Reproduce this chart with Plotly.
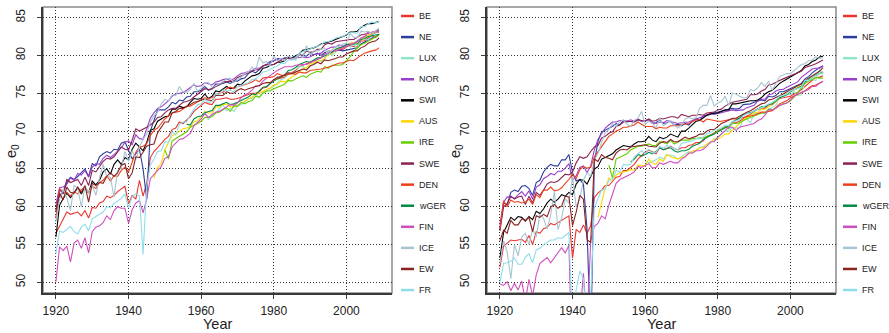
import plotly.graph_objects as go

# ---------------- data ----------------
countries = ["BE", "NE", "LUX", "NOR", "SWI", "AUS", "IRE", "SWE", "DEN", "wGER", "FIN", "ICE", "EW", "FR"]
first_year = [1920, 1920, 1960, 1920, 1920, 1947, 1950, 1920, 1920, 1956, 1920, 1920, 1920, 1920]
colors = ["#E8352E", "#2D3E9E", "#8FE5C6", "#9A3FCB", "#000000", "#FFD700", "#66CD00",
          "#8B2252", "#EE3F1A", "#008B45", "#CD50BE", "#A7C4D2", "#8B2323", "#8EDDEB"]

# Females (left panel)
F_BE = [56.5,57.5,58.3,59.3,59.0,59.2,59.3,58.8,59.5,58.5,
        59.9,59.8,60.5,60.7,61.4,61.2,61.5,62.0,62.4,62.7,
        60.4,61.5,61.0,63.5,61.4,63.1,66.5,67.3,67.8,68.4,
        68.9,69.3,70.2,70.4,71.2,71.0,71.4,71.9,72.6,73.0,
        73.4,73.8,73.6,73.5,74.2,74.2,74.3,74.4,74.2,74.2,
        74.3,74.5,74.7,74.8,75.0,75.0,75.2,75.7,75.8,76.3,
        76.8,76.9,77.0,77.1,77.6,77.7,78.0,78.5,78.7,78.9,
        79.1,79.4,79.6,79.7,80.2,80.6,80.5,80.6,80.8,80.8,
        81.1,81.3,81.2,81.1,81.9,81.9,82.3,82.6,82.4,82.8]
F_NE = [59.5,62.3,61.7,63.2,63.9,63.6,64.0,64.5,65.0,64.0,
        65.7,65.4,66.6,67.0,67.3,67.1,67.6,67.5,68.4,68.6,
        67.4,66.3,67.0,67.6,65.0,61.0,70.0,71.4,72.8,72.8,
        72.8,73.2,73.8,73.6,74.1,74.0,74.5,74.6,75.2,75.2,
        75.4,75.9,75.4,75.6,76.2,76.2,76.3,76.5,76.3,76.6,
        76.6,76.9,77.0,77.6,77.9,77.7,78.2,78.6,78.8,79.2,
        79.3,79.5,79.4,79.7,79.7,79.6,79.7,80.0,80.0,79.9,
        80.3,80.1,80.3,80.0,80.4,80.5,80.4,80.7,80.7,80.6,
        80.7,80.8,80.8,81.0,81.5,81.7,82.0,82.3,82.4,82.8]
F_LUX = [72.0,72.6,71.5,72.2,72.4,72.9,73.5,72.7,73.0,72.6,
         73.3,73.5,73.8,74.3,74.3,74.9,74.4,75.2,75.3,75.6,
         75.9,76.4,76.8,77.0,77.5,77.6,77.8,78.5,78.6,78.0,
         78.6,79.0,79.5,79.2,79.6,80.6,80.0,80.4,81.0,81.2,
         81.5,81.1,81.5,80.8,82.3,82.4,82.0,82.6,83.2,83.3]
F_NOR = [60.3,62.5,62.6,63.0,63.8,63.5,64.4,64.2,64.8,63.9,
         65.2,65.7,65.6,66.4,66.8,66.5,66.9,67.3,67.8,68.5,
         68.7,68.2,69.5,69.0,68.9,70.3,71.7,72.4,73.0,73.2,
         73.6,74.0,74.6,74.9,75.0,75.1,75.4,75.8,76.1,75.9,
         76.0,76.4,76.2,76.1,76.5,76.6,76.8,76.9,76.7,76.9,
         77.3,77.6,77.7,77.8,78.0,78.3,78.3,78.6,78.7,79.0,
         79.3,79.6,79.6,79.6,79.6,79.5,79.8,79.7,79.8,79.7,
         79.8,80.1,80.2,80.3,80.7,80.9,81.1,81.1,81.4,81.2,
         81.4,81.6,81.6,81.9,82.3,82.5,82.7,82.8,83.0,83.1]
F_SWI = [56.0,60.2,61.1,61.8,61.2,61.9,62.5,61.7,62.6,61.8,
         63.4,62.9,63.5,64.6,65.0,64.3,65.6,66.2,65.6,66.5,
         66.2,67.6,68.4,67.9,67.4,68.5,70.1,70.3,71.3,71.6,
         71.9,72.0,72.9,72.9,73.3,73.1,73.2,73.8,74.3,74.2,
         74.3,74.9,74.3,74.6,75.3,75.2,75.5,75.9,75.6,75.7,
         76.2,76.1,76.6,76.9,77.3,77.4,77.6,78.3,78.4,78.7,
         78.8,79.1,79.1,79.3,79.8,79.7,79.9,80.2,80.7,80.8,
         80.8,81.0,81.2,81.5,81.6,81.7,81.9,82.1,82.3,82.4,
         82.7,83.1,83.1,83.2,83.7,84.0,84.2,84.2,84.4,84.5]
F_AUS = [63.8,65.2,65.7,
         67.5,68.5,69.4,69.6,69.9,70.3,70.4,70.6,71.2,71.4,
         71.9,72.6,72.4,72.4,73.2,73.2,73.5,73.6,73.2,73.2,
         73.4,73.7,74.0,74.3,74.6,74.8,75.0,75.3,75.5,75.7,
         76.1,76.2,76.6,76.5,76.8,77.1,77.5,77.8,78.2,78.4,
         78.9,79.0,79.3,79.3,79.6,80.1,80.2,80.8,80.9,81.0,
         81.2,81.6,81.7,81.6,82.2,82.3,82.7,82.9,83.0,83.2]
F_IRE = [67.5,66.3,68.7,69.0,69.4,69.7,69.9,70.5,70.7,71.0,
         71.3,71.8,71.8,71.9,72.4,72.5,72.8,73.1,72.6,73.3,
         73.3,73.8,73.6,73.9,74.0,74.6,74.5,75.0,75.3,75.3,
         75.6,75.8,76.0,76.2,76.7,76.6,76.9,77.1,77.3,77.1,
         77.5,77.7,77.9,77.8,78.5,78.3,78.7,78.7,78.7,78.8,
         79.3,79.8,80.5,80.9,81.4,81.6,81.9,82.2,82.4,82.7]
F_SWE = [58.5,61.5,61.8,63.6,63.2,63.4,63.6,62.8,63.9,62.8,
         64.8,64.6,65.3,66.0,66.4,66.3,66.6,67.3,67.9,67.6,
         67.5,68.8,70.3,70.0,70.2,70.5,70.8,71.2,71.8,71.9,
         72.4,72.8,73.0,73.0,73.4,73.8,73.9,74.1,74.5,74.9,
         75.2,75.6,75.5,75.6,75.9,76.1,76.5,76.5,76.5,76.6,
         77.1,77.3,77.4,77.7,77.8,78.1,78.1,78.6,78.8,78.8,
         78.8,79.1,79.4,79.6,79.6,79.7,79.7,80.1,80.0,80.6,
         80.4,80.5,80.8,80.8,81.4,81.6,81.5,81.8,81.9,81.9,
         82.0,82.1,82.1,82.4,82.7,82.8,82.9,83.0,83.2,83.4]
F_DEN = [58.5,62.4,62.0,61.9,61.4,62.0,61.7,62.3,62.5,61.9,
         62.7,62.4,63.2,63.5,64.1,63.4,64.1,64.0,64.8,65.2,
         64.6,65.9,67.2,67.9,68.0,68.3,69.4,70.1,70.4,71.0,
         71.6,72.0,72.4,72.5,72.6,72.9,73.3,73.3,73.6,73.8,
         74.1,74.4,74.3,74.4,74.9,75.0,75.1,75.6,75.8,75.6,
         75.9,76.0,76.1,76.3,76.5,76.8,76.5,77.0,77.1,77.1,
         77.2,77.6,77.4,77.3,77.5,77.6,77.5,77.8,77.7,77.7,
         78.0,78.1,78.2,78.2,78.3,78.4,78.6,78.8,79.0,79.0,
         79.2,79.4,79.3,79.7,80.0,80.3,80.5,80.6,80.7,81.0]
F_wGER = [70.9,70.8,71.6,71.9,
          72.0,72.4,72.6,72.7,73.4,73.4,73.6,73.8,73.5,73.6,
          73.8,74.0,74.2,74.5,74.9,74.8,75.3,75.8,75.9,76.3,
          76.6,76.9,77.1,77.4,78.0,78.1,78.4,78.8,79.0,79.2,
          79.1,79.4,79.7,79.7,80.0,80.2,80.4,80.8,81.0,81.1,
          81.4,81.5,81.5,81.5,82.1,82.2,82.5,82.6,82.7,82.8]
F_FIN = [50.1,54.7,54.2,54.8,52.7,55.2,55.6,54.5,55.9,53.9,
         56.7,57.3,57.5,57.9,58.8,58.3,59.5,60.0,59.8,59.8,
         57.8,59.6,60.5,60.8,59.2,61.0,63.7,64.3,64.8,65.3,
         66.4,66.6,67.9,68.4,68.9,69.0,69.3,69.7,70.7,71.1,
         71.6,72.3,71.8,72.2,72.5,72.6,72.9,73.2,73.5,73.4,
         73.7,74.4,74.8,75.0,75.4,76.0,76.0,76.6,77.0,77.3,
         77.7,78.0,78.2,78.5,78.5,78.5,78.7,78.8,78.8,78.8,
         79.0,79.3,79.5,79.7,80.2,80.3,80.6,80.6,80.8,81.0,
         81.2,81.5,81.6,81.8,82.3,82.5,83.1,83.0,83.1,83.2]
F_ICE = [58.0,61.0,62.3,61.2,59.5,62.8,62.5,60.0,62.7,61.8,
         62.8,61.5,63.8,65.6,64.0,63.9,61.3,64.8,65.1,67.3,
         66.0,67.4,66.2,67.9,68.9,69.6,71.2,72.0,72.5,73.6,
         74.2,74.0,74.8,74.7,75.9,75.2,75.1,75.5,76.3,75.3,
         75.6,76.4,76.4,75.8,76.0,76.2,76.5,76.9,77.0,76.4,
         76.9,77.1,77.6,77.8,78.5,78.0,79.8,79.0,79.2,78.6,
         79.9,79.3,79.6,79.3,79.9,79.6,79.4,80.1,79.7,81.3,
         80.1,80.6,80.6,80.8,81.0,80.0,80.7,81.1,81.2,81.5,
         81.6,82.9,82.4,82.3,83.2,83.1,83.2,82.9,83.3,83.6]
F_EW = [59.5,61.8,60.9,62.6,61.9,61.8,62.6,61.9,62.8,60.6,
        63.1,62.8,63.2,63.1,64.0,64.5,64.0,64.5,65.5,65.7,
        63.7,64.5,66.6,66.5,67.2,68.0,68.2,68.3,69.8,70.5,
        71.2,71.2,72.4,72.6,73.0,73.0,73.2,73.5,73.8,73.9,
        74.1,74.2,74.1,74.0,74.7,74.7,74.7,75.2,75.0,75.0,
        75.4,75.6,75.4,75.6,75.8,75.9,76.0,76.3,76.4,76.4,
        76.8,77.1,77.2,77.4,77.7,77.6,77.8,78.1,78.2,78.1,
        78.6,78.8,79.1,78.9,79.4,79.3,79.4,79.6,79.8,79.8,
        80.2,80.4,80.6,80.6,81.0,81.2,81.6,81.8,81.9,82.3]
F_FR = [53.8,56.8,56.6,57.0,57.4,56.7,56.4,57.3,57.7,56.8,
        58.4,58.7,59.0,59.3,60.0,59.9,60.4,60.7,61.1,61.7,
        59.9,61.3,61.7,61.4,53.7,62.6,65.5,66.3,67.3,67.4,
        68.6,68.5,69.9,69.5,70.9,71.2,71.2,72.2,72.8,73.5,
        73.6,74.2,73.8,73.9,75.0,74.8,75.4,75.3,75.4,75.2,
        75.9,76.1,76.2,76.4,76.8,76.9,77.3,77.8,77.9,78.2,
        78.4,78.6,79.0,78.9,79.4,79.4,79.7,80.3,80.5,80.6,
        80.9,81.0,81.3,81.4,81.8,81.8,82.0,82.3,82.4,82.5,
        82.8,83.0,83.0,82.9,83.8,83.8,84.2,84.4,84.3,84.5]

# Males (right panel)
M_BE = [52.0,54.8,55.2,55.6,55.5,55.6,55.7,55.3,56.2,55.0,
        56.7,56.5,57.1,57.3,57.8,57.6,57.9,58.3,58.5,58.8,
        53.2,57.0,56.6,57.6,56.5,57.5,61.2,61.8,62.2,62.8,
        62.8,63.3,63.9,64.0,64.8,64.8,65.2,65.6,66.3,66.8,
        67.2,67.5,67.2,67.0,67.8,67.6,67.7,68.0,67.7,67.5,
        67.8,67.8,68.1,68.2,68.5,68.5,68.7,69.3,69.5,69.7,
        70.0,70.3,70.5,70.6,71.1,71.1,71.3,71.7,72.0,72.2,
        72.7,72.9,73.0,73.0,73.5,73.5,73.9,74.3,74.4,74.5,
        74.6,74.9,75.1,75.5,75.9,76.2,76.6,77.1,77.1,77.3]
M_NE = [57.0,60.5,60.3,61.9,62.2,62.0,62.7,62.8,62.4,61.5,
        63.2,63.5,64.6,65.2,65.6,65.4,65.4,66.2,66.2,66.9,
        64.5,63.4,63.6,63.0,57.0,42.0,65.8,68.6,69.9,70.1,
        70.4,70.6,71.0,70.8,71.4,71.2,71.3,71.2,71.5,71.3,
        71.4,71.5,71.0,71.1,71.5,71.0,71.1,71.3,70.8,70.9,
        70.7,71.0,70.8,71.3,71.6,71.4,72.0,72.1,72.2,72.4,
        72.5,72.7,72.7,72.9,73.0,72.9,73.0,73.5,73.6,73.6,
        73.8,74.0,74.1,74.0,74.6,74.5,74.7,75.2,75.2,75.4,
        75.6,75.8,76.0,76.3,76.9,77.2,77.7,78.1,78.4,78.6]
M_LUX = [66.0,65.8,66.0,66.2,66.6,66.3,66.9,66.8,66.7,66.3,
         66.6,66.9,67.3,67.1,67.5,67.8,68.0,68.2,68.4,69.0,
         69.1,69.6,70.0,70.0,70.5,70.4,70.4,71.4,71.6,71.1,
         72.4,72.3,72.4,72.3,72.9,73.1,73.4,74.5,74.5,74.9,
         74.8,75.2,74.7,74.8,76.4,76.9,76.8,76.7,78.1,77.6]
M_NOR = [57.6,60.6,61.3,61.3,61.1,61.5,62.0,61.4,62.1,61.0,
         62.6,62.9,63.7,64.0,64.4,64.2,64.7,64.7,65.1,65.7,
         63.5,64.1,65.2,65.4,64.5,65.4,67.5,68.9,69.7,70.4,
         70.8,71.2,71.2,71.4,71.4,71.3,71.5,71.3,71.6,71.3,
         71.4,71.5,71.1,71.0,71.2,71.1,71.4,71.3,71.2,71.0,
         71.1,71.2,71.2,71.4,71.6,71.7,71.9,72.2,72.3,72.2,
         72.3,72.5,72.6,72.7,72.8,72.7,72.8,72.8,73.1,73.3,
         73.4,74.0,74.2,74.2,74.8,74.9,75.3,75.5,75.5,75.8,
         76.0,76.3,76.5,77.1,77.5,77.8,78.2,78.3,78.3,78.6]
M_SWI = [53.2,56.6,57.6,58.6,58.2,58.7,58.6,58.1,58.7,58.3,
         59.4,59.1,59.7,60.5,61.0,60.6,61.0,61.6,61.4,61.9,
         61.6,63.0,63.6,63.5,63.0,64.0,65.0,65.3,66.3,66.5,
         66.8,67.0,67.5,67.8,68.1,68.0,67.9,68.3,68.6,68.6,
         68.7,69.3,68.8,68.6,69.2,69.0,69.2,69.6,69.4,69.2,
         70.0,70.0,70.4,70.9,71.3,71.4,71.8,72.1,72.3,72.3,
         72.4,72.6,72.8,72.8,73.6,73.6,73.7,73.8,74.0,74.0,
         74.0,74.1,74.4,74.9,75.2,75.4,75.8,76.3,76.6,76.9,
         77.1,77.5,77.8,78.0,78.6,78.8,79.2,79.4,79.8,79.9]
M_AUS = [58.6,60.5,62.5,
         63.8,63.5,64.2,64.5,64.6,64.7,64.9,64.8,65.5,65.4,
         65.4,66.3,65.7,65.6,66.3,66.0,66.9,66.6,66.4,66.3,
         66.5,66.6,67.0,67.4,67.4,67.8,67.8,68.3,68.5,68.9,
         69.0,69.2,69.6,69.6,70.1,70.5,71.0,71.5,71.8,72.1,
         72.4,72.5,72.9,72.9,73.3,73.6,73.9,74.4,74.7,75.0,
         75.2,75.7,75.9,75.9,76.5,76.7,77.1,77.4,77.6,77.7]
M_IRE = [65.5,63.8,66.3,66.5,66.8,67.0,67.5,67.7,68.0,68.0,
         68.2,68.3,68.1,68.1,68.6,68.5,68.3,68.8,68.3,68.6,
         68.8,68.8,68.8,69.0,69.0,69.1,69.1,69.3,69.5,69.6,
         70.1,70.3,70.6,70.3,71.0,71.0,71.1,71.4,71.6,71.8,
         72.1,72.3,72.4,72.4,72.9,72.8,73.1,73.4,73.6,73.7,
         74.0,74.5,75.1,75.6,76.3,76.6,76.9,77.1,77.0,77.0]
M_SWE = [56.8,60.0,60.4,61.4,61.0,61.3,61.4,60.3,61.4,60.5,
         61.9,61.5,62.2,63.0,63.3,63.2,63.4,63.8,64.3,64.2,
         64.6,65.8,66.6,66.4,66.6,67.3,67.9,68.1,69.1,69.3,
         69.7,69.9,70.6,70.8,71.2,71.3,71.2,71.2,71.5,71.4,
         71.3,71.6,71.3,71.4,71.7,71.6,71.8,71.9,71.9,71.7,
         72.2,72.1,71.9,72.1,72.1,72.2,72.1,72.4,72.5,72.5,
         72.8,72.9,73.3,73.6,73.8,73.9,74.0,74.2,74.2,74.8,
         74.8,74.9,75.3,75.5,76.1,76.2,76.5,76.7,76.9,77.1,
         77.4,77.5,77.7,77.9,78.4,78.5,78.7,78.9,79.1,79.4]
M_DEN = [57.0,60.8,60.0,60.9,60.6,60.7,60.5,60.6,61.0,60.3,
         61.6,61.2,62.2,62.2,62.6,62.1,62.2,62.5,63.1,63.6,
         64.3,63.7,64.9,65.3,65.1,65.2,66.6,67.3,67.9,68.6,
         69.3,69.6,70.0,70.2,70.5,70.5,70.6,70.8,71.2,70.9,
         70.6,70.6,70.6,70.3,70.5,70.4,70.4,70.7,70.7,70.7,
         70.9,70.9,71.0,71.2,71.5,71.5,71.2,71.6,71.5,71.4,
         71.3,71.3,71.4,71.6,71.6,71.6,71.7,71.9,71.9,72.0,
         72.1,72.3,72.5,72.5,72.6,72.7,73.1,73.6,73.8,74.0,
         74.4,74.6,74.8,75.0,75.3,75.7,76.0,76.1,76.3,76.6]
M_wGER = [65.9,66.3,66.9,66.7,
          66.9,67.2,67.0,67.3,67.8,67.5,67.7,67.8,67.4,67.2,
          67.4,67.4,67.6,68.0,68.2,68.4,68.9,69.2,69.4,69.6,
          69.9,70.2,70.5,70.7,71.2,71.5,71.7,72.2,72.3,72.5,
          72.6,72.9,73.2,73.2,73.5,73.6,74.0,74.4,74.6,74.8,
          75.2,75.5,75.7,75.9,76.5,76.8,77.2,77.4,77.6,77.8]
M_FIN = [49.8,49.6,50.1,48.9,49.9,49.0,50.2,47.5,50.4,48.2,
         51.0,52.5,52.9,53.3,52.6,53.3,54.0,54.6,53.9,54.9,
         38.0,47.0,45.5,51.2,44.0,55.5,57.4,57.8,58.8,58.4,
         60.2,61.8,63.1,63.6,63.8,64.1,64.3,64.6,65.3,65.2,
         65.4,65.7,65.1,65.2,65.8,65.6,65.8,66.0,65.8,65.8,
         66.3,66.6,67.1,67.1,67.4,67.4,67.6,68.0,68.6,68.6,
         69.2,69.6,70.1,70.5,70.5,70.1,70.5,70.6,70.7,70.9,
         71.0,71.4,71.6,72.1,72.8,72.8,73.0,73.4,73.5,73.7,
         74.1,74.6,74.9,75.1,75.3,75.5,75.9,75.9,76.3,76.6]
M_ICE = [52.5,55.5,54.0,50.5,55.0,53.5,56.0,56.5,55.0,57.0,
         56.0,59.0,58.5,57.0,59.0,62.0,57.0,58.5,61.0,60.5,
         64.0,60.0,61.0,63.5,64.5,64.0,66.2,67.0,68.5,69.8,
         70.2,71.0,70.6,71.2,71.5,70.9,70.6,71.4,71.7,72.6,
         70.9,71.3,71.0,70.4,71.8,70.7,71.0,71.4,70.8,70.4,
         70.8,71.6,71.8,71.6,71.8,73.0,73.4,73.4,74.7,73.3,
         73.7,73.9,74.6,73.4,75.0,74.9,74.6,74.4,74.4,75.5,
         75.3,75.7,76.4,75.9,76.6,75.4,76.3,77.2,77.4,77.6,
         77.6,78.0,78.5,78.8,78.9,79.3,79.4,79.8,79.6,79.7]
M_EW = [55.5,56.9,56.5,58.2,57.6,57.6,58.4,58.2,58.6,56.7,
        58.8,58.6,59.0,58.7,60.0,60.3,59.8,60.1,61.4,61.3,
        57.5,59.3,61.5,61.0,55.6,55.3,66.3,66.0,66.9,66.5,
        66.4,66.2,67.1,67.5,67.6,67.5,67.9,68.0,68.1,68.1,
        68.2,68.0,67.9,67.9,68.4,68.6,68.5,68.9,68.6,68.6,
        68.9,69.2,69.0,69.1,69.3,69.6,69.6,70.0,70.2,70.2,
        70.6,71.0,71.2,71.5,71.7,71.7,72.0,72.2,72.5,72.7,
        73.0,73.3,73.6,73.7,74.1,74.2,74.4,74.7,74.9,75.2,
        75.5,75.8,76.0,76.2,76.7,77.0,77.3,77.6,77.9,78.4]
M_FR = [50.0,52.5,52.6,52.8,53.2,52.4,52.4,53.3,53.8,52.6,
        54.3,54.5,55.0,55.3,55.6,55.6,55.9,55.8,56.2,56.6,
        44.0,49.0,51.5,50.5,43.0,48.0,59.9,61.0,62.2,62.3,
        63.5,63.6,64.8,64.6,65.6,65.5,65.6,66.6,67.0,67.4,
        67.0,67.6,67.1,67.2,68.0,67.7,68.1,67.9,67.8,67.5,
        68.4,68.5,68.6,68.7,69.0,69.0,69.2,69.7,69.8,70.1,
        70.2,70.4,70.8,70.7,71.2,71.3,71.5,72.0,72.3,72.4,
        72.7,72.9,73.1,73.3,73.6,73.8,74.1,74.6,74.7,74.9,
        75.3,75.5,75.7,75.8,76.7,76.7,77.1,77.4,77.6,77.7]

female = [F_BE, F_NE, F_LUX, F_NOR, F_SWI, F_AUS, F_IRE, F_SWE, F_DEN, F_wGER, F_FIN, F_ICE, F_EW, F_FR]
male = [M_BE, M_NE, M_LUX, M_NOR, M_SWI, M_AUS, M_IRE, M_SWE, M_DEN, M_wGER, M_FIN, M_ICE, M_EW, M_FR]

x_ticks = [1920, 1940, 1960, 1980, 2000]
y_ticks = [50, 55, 60, 65, 70, 75, 80, 85]
x_range = [1916.44, 2012.56]
y_range = [48.6, 86.4]

# ---------------- figure ----------------
W, H = 889, 333
FONT = "Liberation Sans, Arial, Helvetica, sans-serif"
fig = go.Figure()

panels = [(female, "x", "y"), (male, "x2", "y2")]
for series, xa, ya in panels:
    for name, start, col, vals in zip(countries, first_year, colors, series):
        fig.add_trace(go.Scatter(
            x=list(range(start, start + len(vals))), y=vals, mode="lines",
            line=dict(color=col, width=1.1), name=name, showlegend=False,
            xaxis=xa, yaxis=ya, hoverinfo="skip"))

ydom = [40 / H, 326 / H]
axis_common = dict(showgrid=True, gridcolor="#333333", griddash="1px,2px", gridwidth=1,
                   zeroline=False, showline=True, linecolor="#3a3a3a", linewidth=2,
                   ticks="outside", ticklen=4, tickwidth=1, tickcolor="#3a3a3a",
                   tickfont=dict(family=FONT, size=12, color="#222222"))
fig.update_layout(
    width=W, height=H, margin=dict(l=0, r=0, t=0, b=0),
    paper_bgcolor="white", plot_bgcolor="white", showlegend=False,
    xaxis=dict(domain=[43 / W, 392 / W], range=x_range, tickvals=x_ticks, anchor="y",
               ticklabelstandoff=2, **axis_common),
    yaxis=dict(domain=ydom, range=y_range, tickvals=y_ticks, anchor="x", tickangle=-90,
               ticklabelstandoff=7, **axis_common),
    xaxis2=dict(domain=[487 / W, 836 / W], range=x_range, tickvals=x_ticks, anchor="y2",
                ticklabelstandoff=2, **axis_common),
    yaxis2=dict(domain=ydom, range=y_range, tickvals=y_ticks, anchor="x2", tickangle=-90,
                ticklabelstandoff=7, **axis_common),
)

shapes = []
annotations = []
# light box around each panel
for xr, yr in [("x domain", "y domain"), ("x2 domain", "y2 domain")]:
    shapes.append(dict(type="rect", xref=xr, yref=yr, x0=0, x1=1, y0=0, y1=1,
                       line=dict(color="#8a8a8a", width=1.5), layer="below"))

# axis titles
for cx, ex in [(217.5, 12), (661.5, 456)]:
    annotations.append(dict(text="Year", x=cx / W, y=1 - 324 / H, xref="paper", yref="paper",
                            showarrow=False, xanchor="center", yanchor="middle",
                            font=dict(family=FONT, size=14.5, color="#222222")))
    annotations.append(dict(text="e<sub>0</sub>", x=ex / W, y=1 - 151 / H, xref="paper", yref="paper",
                            showarrow=False, textangle=-90, xanchor="center", yanchor="middle",
                            font=dict(family=FONT, size=14.5, color="#222222")))

# legends (one per panel)
for lx0, lx1, tx in [(401, 414, 417), (843, 857, 860)]:
    for i, (name, col) in enumerate(zip(countries, colors)):
        yp = 1 - (16 + 21.08 * i) / H
        shapes.append(dict(type="line", xref="paper", yref="paper", x0=lx0 / W, x1=lx1 / W,
                           y0=yp, y1=yp, line=dict(color=col, width=2.5)))
        annotations.append(dict(text=name, x=tx / W, y=yp, xref="paper", yref="paper",
                                showarrow=False, xanchor="left", yanchor="middle",
                                font=dict(family=FONT, size=9, color="#222222")))

fig.update_layout(shapes=shapes, annotations=annotations)
fig.write_html("out.html")
